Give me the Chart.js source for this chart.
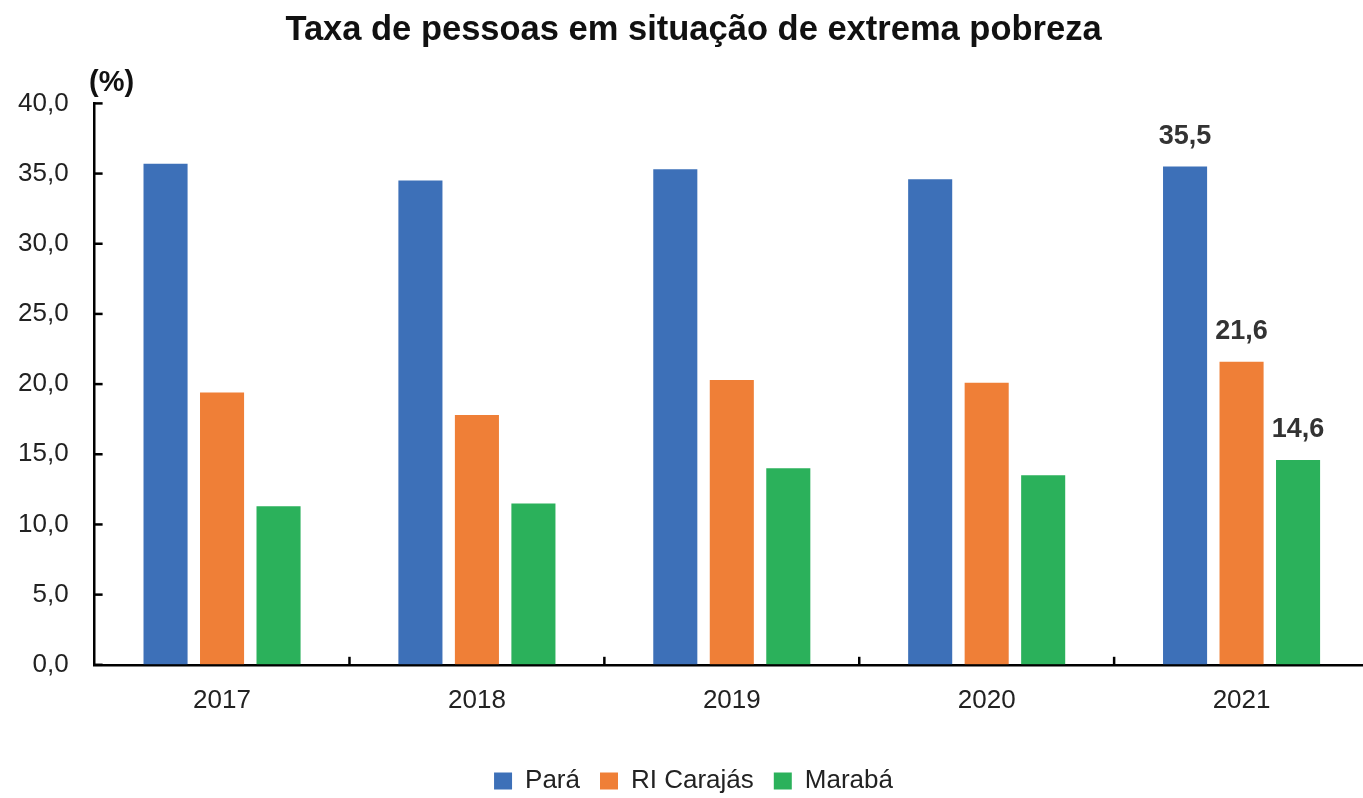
<!DOCTYPE html>
<html>
<head>
<meta charset="utf-8">
<script src="https://cdn.jsdelivr.net/npm/chart.js@4"></script>
<style>
  html, body { margin: 0; padding: 0; background: #fff; overflow: hidden; }
  #wrap { width: 1400px; height: 798px; }
</style>
</head>
<body>
<div id="wrap"><canvas id="grafico"></canvas></div>
<script>
// DADOS
const anos = ["2017", "2018", "2019", "2020", "2021"];
const para = [35.7, 34.5, 35.3, 34.6, 35.5];
const carajas = [19.4, 17.8, 20.3, 20.1, 21.6];
const maraba = [11.3, 11.5, 14.0, 13.5, 14.6];
const nomesSeries = ["Pará", "RI Carajás", "Marabá"];
const cores = ["#3D70B8", "#EF7F37", "#2BB15B"];

const fonte = "'Liberation Sans', Arial, sans-serif";
const virgula = (v) => v.toFixed(1).replace(".", ",");

// ticks para dentro + rótulo (%) + rótulos de 2021
const extras = {
  id: "extras",
  afterDraw(chart) {
    const ctx = chart.ctx;
    const x = chart.scales.x;
    const y = chart.scales.y;
    ctx.save();
    ctx.strokeStyle = "#000";
    ctx.lineWidth = 2.5;
    y.ticks.forEach((t) => {
      const py = y.getPixelForValue(t.value);
      ctx.beginPath();
      ctx.moveTo(x.left, py);
      ctx.lineTo(x.left + 8, py);
      ctx.stroke();
    });
    const passo = (x.right - x.left) / anos.length;
    for (let i = 1; i < anos.length; i++) {
      const px = x.left + passo * i;
      ctx.beginPath();
      ctx.moveTo(px, y.bottom);
      ctx.lineTo(px, y.bottom - 8);
      ctx.stroke();
    }

    ctx.fillStyle = "#111";
    ctx.font = "bold 29px " + fonte;
    ctx.textAlign = "center";
    ctx.textBaseline = "bottom";
    ctx.fillText("(%)", x.left + 17, y.top - 6);

    // rótulos só no último ano
    const ult = anos.length - 1;
    ctx.fillStyle = "#333";
    ctx.font = "bold 27px " + fonte;
    ctx.textBaseline = "alphabetic";
    chart.data.datasets.forEach((ds, i) => {
      const bar = chart.getDatasetMeta(i).data[ult];
      ctx.fillText(virgula(ds.data[ult]), bar.x, bar.y - 23);
    });
    ctx.restore();
  },
};

new Chart(document.getElementById("grafico"), {
  type: "bar",
  data: {
    labels: anos,
    datasets: [para, carajas, maraba].map((d, i) => ({
      label: nomesSeries[i],
      data: d,
      backgroundColor: cores[i],
      categoryPercentage: 0.665,
      barPercentage: 0.78,
    })),
  },
  options: {
    responsive: true,
    maintainAspectRatio: false,
    animation: false,
    layout: { padding: { top: 0, left: 18, right: 31, bottom: -6 } },
    plugins: {
      title: {
        display: true,
        text: "Taxa de pessoas em situação de extrema pobreza",
        color: "#111",
        font: { family: fonte, size: 34.5, weight: "bold" },
        padding: { top: 10, bottom: 52 },
      },
      legend: {
        position: "bottom",
        labels: {
          color: "#222",
          font: { family: fonte, size: 26 },
          boxWidth: 18,
          boxHeight: 17,
          padding: 20,
        },
      },
      tooltip: { enabled: false },
    },
    scales: {
      x: {
        grid: { display: true, drawOnChartArea: false, drawTicks: false },
        border: { color: "#000", width: 2.5 },
        ticks: { color: "#222", font: { family: fonte, size: 26 }, padding: 20 },
        afterFit: (scale) => { scale.height += 12; },
      },
      y: {
        min: 0,
        max: 40,
        grid: { display: true, drawOnChartArea: false, drawTicks: false },
        border: { color: "#000", width: 2.5 },
        ticks: {
          stepSize: 5,
          color: "#222",
          padding: 26,
          font: { family: fonte, size: 26 },
          callback: (v) => virgula(v),
        },
        afterFit: (scale) => { scale.width -= 26; },
      },
    },
  },
  plugins: [extras],
});
</script>
</body>
</html>
